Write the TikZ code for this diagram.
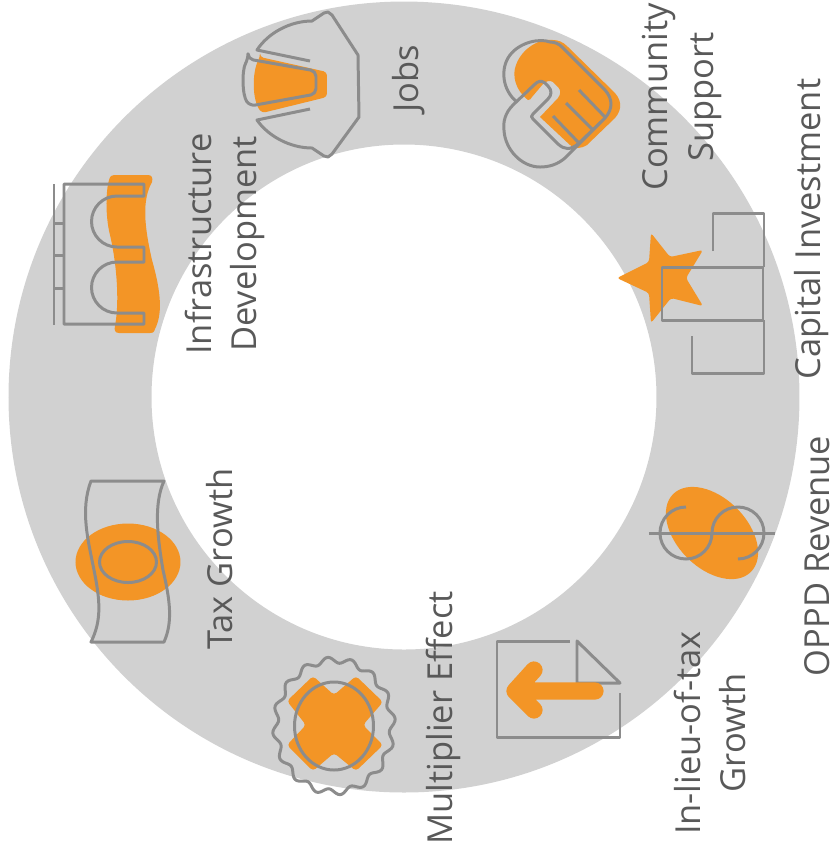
\documentclass[tikz,border=0pt]{standalone}
\usepackage{fontspec}
\setmainfont{Open Sans}
\usetikzlibrary{calc}
\definecolor{myorange}{RGB}{243,149,38}
\definecolor{mygray}{RGB}{140,140,140}
\definecolor{myring}{RGB}{209,209,209}
\definecolor{mytext}{RGB}{89,89,89}

\begin{document}
\begin{tikzpicture}[%
  x=0.01cm,
  y=-0.01cm,
  iconline/.style={draw=mygray,line width=0.85pt,line join=round},
  iconfill/.style={fill=myorange,draw=none},
  label/.style={rotate=90,align=center,text=mytext,font=\fontsize{9.8pt}{13pt}\selectfont},
]

  \useasboundingbox (0,0) rectangle (833,853);

  \coordinate (c0) at (404,397);

  % ring
  \fill[myring,even odd rule] (c0) circle [radius=395.5] (c0) circle [radius=252.5];

  % jobs
  \fill[iconfill,rounded corners=1pt] (260,57) -- (327,72) -- (327,97) -- (262,113)
    .. controls (252,100) and (252,72) .. cycle;
  \draw[iconline,rounded corners=1.5pt] (248,59) -- (316,71) -- (316,94) -- (250,106)
    .. controls (242,95) and (242,70) .. cycle;
  \draw[iconline] (310,61) -- (257,50) .. controls (268,33) and (290,21) .. (312,21)
    -- (324,13) -- (328,12) -- (332,15) -- (358,55) -- (359,117) -- (332,154) -- (328,157) -- (324,156) -- (312,148)
    .. controls (290,148) and (268,136) .. (257,120) -- (310,109);

  % community
  \fill[iconfill] (528,100) .. controls (515,90) and (512,75) .. (516,65)
    .. controls (522,48) and (540,38) .. (553,40)
    .. controls (558,40) and (563,42) .. (567,46) -- (615,93)
    .. controls (622,101) and (622,110) .. (615,118) -- (587,145)
    .. controls (580,149) and (575,149) .. (570,145) -- (540,117) -- (558,98)
    .. controls (561,94) and (561,90) .. (558,87) -- (553,82)
    .. controls (550,80) and (546,81) .. (543,84) -- (532,97)
    .. controls (531,99) and (530,100) .. cycle;
  \draw[iconline] (517,102) .. controls (502,90) and (500,68) .. (510,55)
    .. controls (520,42) and (540,38) .. (550,42)
    .. controls (555,42) and (559,44) .. (562,47) -- (605,90)
    .. controls (613,99) and (613,109) .. (605,118) -- (578,144)
    .. controls (570,150) and (565,150) .. (558,144) -- (533,119)
    .. controls (531,117) and (531,116) .. (533,114) -- (548,99)
    .. controls (552,95) and (552,90) .. (548,86) -- (545,83)
    .. controls (541,80) and (538,81) .. (534,85) -- (513,105)
    .. controls (505,113) and (503,122) .. (504,130)
    .. controls (505,150) and (522,167) .. (540,167)
    .. controls (550,167) and (558,164) .. (565,158) -- (605,118);
  \draw[iconline] (553,116) -- (578,142) (566,103) -- (592,129) (579,90) -- (605,117);

  % capital investment
  \fill[iconfill,rounded corners=0.8pt] (651,233) -- (670,257) -- (703,250) -- (686,278)
    -- (703,306) -- (671,298) -- (651,323) -- (649,293) -- (617,278) -- (649,262) -- cycle;
  \draw[iconline] (662,267) rectangle (763,320);
  \draw[iconline] (713,251) -- (713,213) -- (764,213) -- (764,267);
  \draw[iconline] (692,336) -- (692,373) -- (764,373) -- (764,320);

  % oppd revenue
  \fill[iconfill,rotate around={-45:(712,533)}] (712,533) ellipse [x radius=55,y radius=35];
  \draw[iconline] (649,533) -- (775,533);
  \draw[iconline] (686,507) arc (-90:-360:26) arc (180:450:26);

  % in-lieu-of-tax growth
  \draw[iconline] (570,641) -- (497,641) -- (497,737) -- (620,737) -- (620,693);
  \draw[iconline] (577,641) -- (620,683) -- (577,683) -- cycle;
  \draw[myorange,line width=4.9pt,line cap=round,line join=round] (595,691) -- (515,691)
    (534,670) -- (515,691) -- (534,710);

  % multiplier effect
  \fill[iconfill,rounded corners=1pt] (287,701) -- (313,676) -- (334,695) -- (356,676) -- (383,702)
    -- (363,725) -- (383,745) -- (356,771) -- (334,753) -- (313,771) -- (287,745) -- (306,725) -- cycle;
  \draw[iconline] (334,726) ellipse [x radius=39.5,y radius=44];
  \draw[iconline] plot[smooth,samples=193,domain=0:360,variable=\a]
    ({334+(58.5+3*cos(16*\a+96))*cos(\a)},{726+(66+3*cos(16*\a+96))*sin(\a)});

  % tax growth
  \fill[iconfill] (128,562) ellipse [x radius=52.5,y radius=38.5];
  \draw[iconline] (128,562) ellipse [x radius=28.5,y radius=20.5];
  \draw[iconline] (91,481) -- (164,481) .. controls (153,505) and (158,540) .. (163,570)
    .. controls (170,600) and (173,622) .. (164,642) -- (91,642)
    .. controls (102,620) and (100,600) .. (94,570)
    .. controls (88,540) and (80,510) .. cycle;

  % infrastructure development
  \fill[iconfill] (114,175) -- (148,175) .. controls (152,175) and (153,178) .. (152,182)
    .. controls (142,200) and (144,225) .. (152,260)
    .. controls (162,295) and (162,315) .. (155,329) .. controls (154,333) and (152,333) .. (150,333)
    -- (119,333) .. controls (115,333) and (114,330) .. (115,326)
    .. controls (120,300) and (116,260) .. (110,235)
    .. controls (105,215) and (106,190) .. (109,180) .. controls (110,176) and (112,175) .. cycle;
  \draw[iconline] (54,184) -- (54,325) (54,223) -- (64,223) (54,255) -- (64,255) (54,288) -- (64,288);
  \draw[iconline] (64,184) -- (144,184) -- (144,196) -- (117,196) arc (-90:-270:25.5) -- (144,247)
    -- (144,262) -- (117,262) arc (-90:-270:25.5) -- (144,313) -- (144,324) -- (64,324) -- cycle;

  \node[label] (jobs) at (409,79) {Jobs};
  \node[label] (community) at (682,97) {Community\\Support};
  \node[label] (capital) at (812,229) {Capital Investment};
  \node[label] (oppd) at (817,556) {OPPD Revenue};
  \node[label] (lieu) at (710,733) {In-lieu-of-tax\\Growth};
  \node[label] (multiplier) at (443,718) {Multiplier Effect};
  \node[label] (tax) at (220,559) {Tax Growth};
  \node[label] (infra) at (225,244) {Infrastructure\\Development};

\end{tikzpicture}
\end{document}
